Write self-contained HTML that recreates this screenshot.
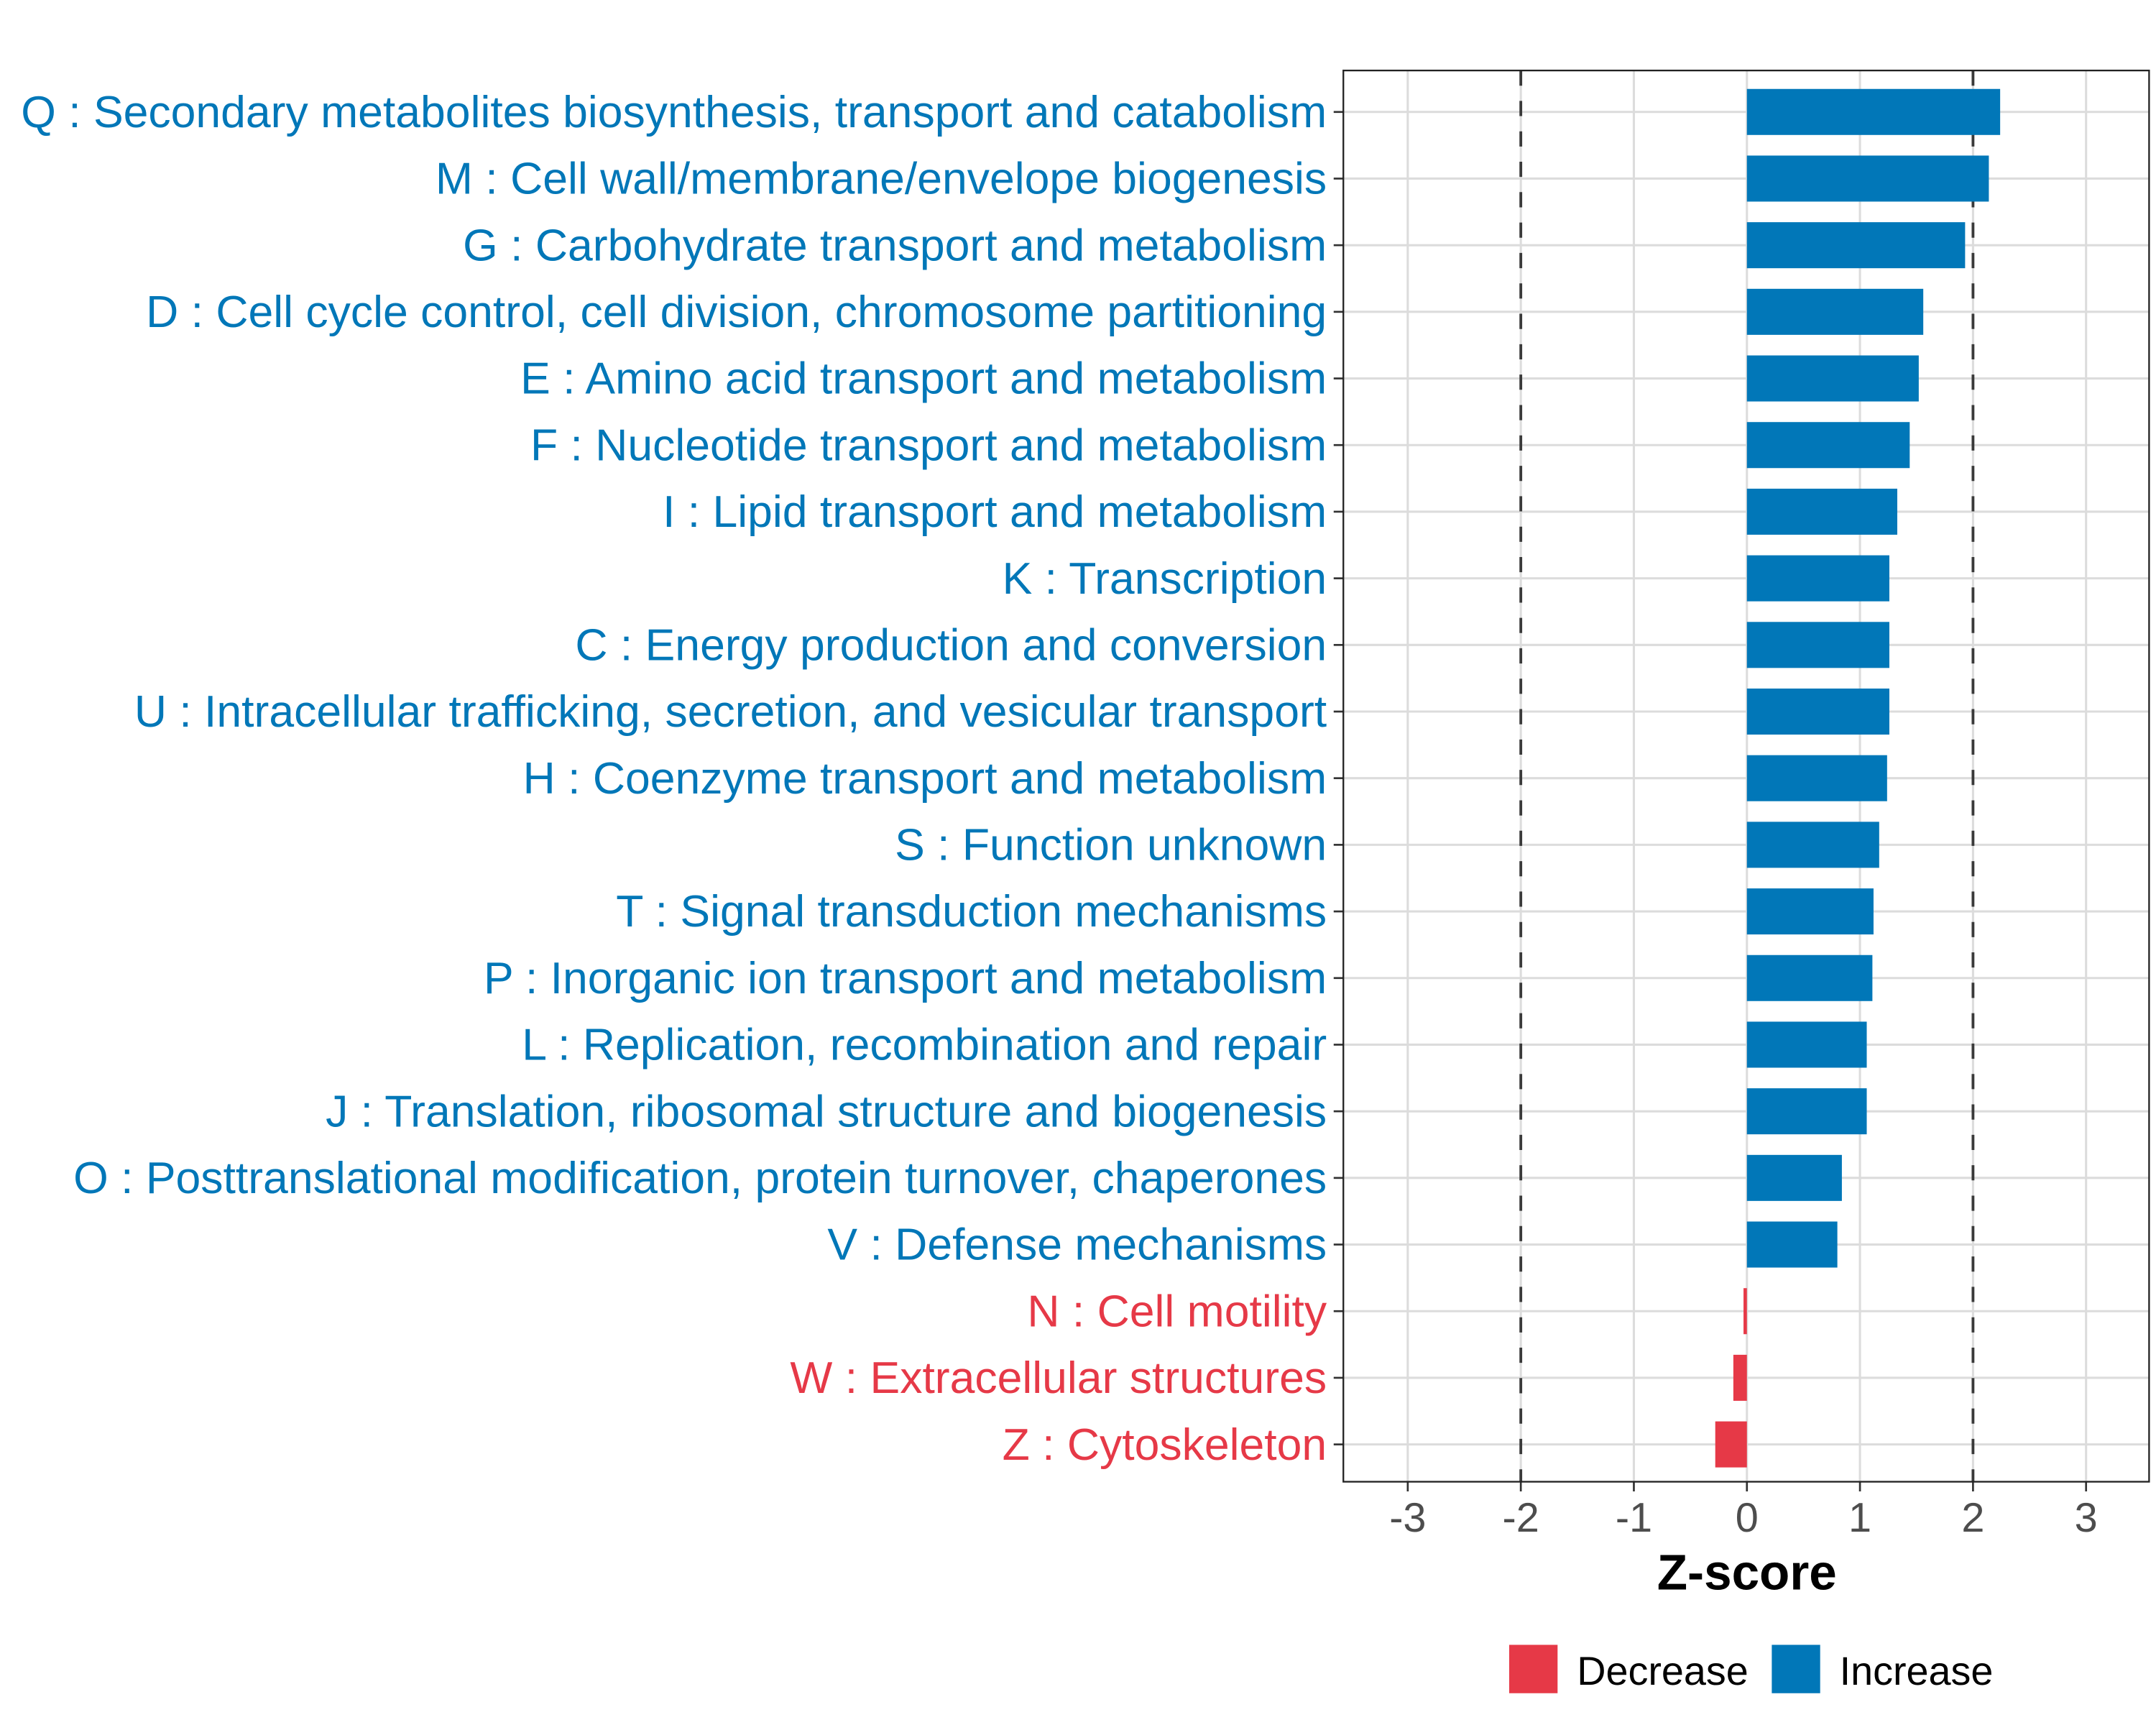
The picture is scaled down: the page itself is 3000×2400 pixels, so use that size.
<!DOCTYPE html>
<html><head><meta charset="utf-8"><style>
html,body{margin:0;padding:0;background:#fff}
svg{display:block}
text{font-family:"Liberation Sans",Arial,sans-serif}
</style></head><body>
<svg id="chart" width="3000" height="2400" viewBox="0 0 1560 1248" xmlns="http://www.w3.org/2000/svg">
<rect x="0" y="0" width="1560" height="1248" fill="#fff"/>
<g id="grid"></g><g id="bars"></g><g id="labels"></g><g id="axis"></g>
<rect x="972" y="51" width="583" height="1021" fill="none" stroke="#222" stroke-width="1.2"/>
<text x="1264" y="1150" font-size="36" font-weight="bold" text-anchor="middle" fill="#000">Z-score</text>
<g>
<rect x="1092" y="1190" width="35" height="35" fill="#e63947"/>
<text x="1141" y="1219" font-size="29" fill="#000">Decrease</text>
<rect x="1282" y="1190" width="35" height="35" fill="#0177b8"/>
<text x="1331" y="1219" font-size="29" fill="#000">Increase</text>
</g>
</svg>
<script>
const categories = ["Q : Secondary metabolites biosynthesis, transport and catabolism","M : Cell wall/membrane/envelope biogenesis","G : Carbohydrate transport and metabolism","D : Cell cycle control, cell division, chromosome partitioning","E : Amino acid transport and metabolism","F : Nucleotide transport and metabolism","I : Lipid transport and metabolism","K : Transcription","C : Energy production and conversion","U : Intracellular trafficking, secretion, and vesicular transport","H : Coenzyme transport and metabolism","S : Function unknown","T : Signal transduction mechanisms","P : Inorganic ion transport and metabolism","L : Replication, recombination and repair","J : Translation, ribosomal structure and biogenesis","O : Posttranslational modification, protein turnover, chaperones","V : Defense mechanisms","N : Cell motility","W : Extracellular structures","Z : Cytoskeleton"];
const zscores = [2.24,2.14,1.93,1.56,1.52,1.44,1.33,1.26,1.26,1.26,1.24,1.17,1.12,1.11,1.06,1.06,0.84,0.80,-0.03,-0.12,-0.28];
const xTicks = [-3,-2,-1,0,1,2,3];
const xTickLabels = ["-3","-2","-1","0","1","2","3"];
const thresholds = [-2,2];

const NS="http://www.w3.org/2000/svg";
const x0=1264, unit=81.8;
const xs=v=>x0+v*unit;
const ys=i=>81+i*48.2;
const bandH=33.3;
function mk(tag,attrs,parent){const e=document.createElementNS(NS,tag);for(const k in attrs)e.setAttribute(k,attrs[k]);parent.appendChild(e);return e;}
const grid=document.getElementById('grid'),bars=document.getElementById('bars'),labels=document.getElementById('labels'),axis=document.getElementById('axis');
xTicks.forEach((t,i)=>{
  const g=mk('line',{x1:xs(t),x2:xs(t),y1:51,y2:1072,stroke:'#dcdcdc','stroke-width':1.6},grid);
  
  
  const tk=mk('line',{x1:xs(t),x2:xs(t),y1:1072,y2:1079,stroke:'#333','stroke-width':1.4},axis);
  
  
  const tl=mk('text',{x:xs(t),y:1108,'font-size':30,'text-anchor':'middle',fill:'#4d4d4d'},axis);
  tl.textContent=xTickLabels[i];
  
  
});
categories.forEach((c,i)=>{
  const y=ys(i);
  const g=mk('line',{x1:972,x2:1555,y1:y,y2:y,stroke:'#dcdcdc','stroke-width':1.6},grid);
  
  
});
thresholds.forEach(t=>{
  const d=mk('line',{x1:xs(t),x2:xs(t),y1:51,y2:1072,stroke:'#3a3a3a','stroke-width':2,'stroke-dasharray':'11 11'},grid);
  
  
});
categories.forEach((c,i)=>{
  const v=zscores[i],y=ys(i);
  const col=v<0?'#e63947':'#0177b8';
  const b=mk('rect',{x:Math.min(xs(0),xs(v)),y:y-bandH/2,width:Math.abs(xs(v)-xs(0)),height:bandH,fill:col},bars);
  
  
  const tk=mk('line',{x1:965,x2:972,y1:y,y2:y,stroke:'#333','stroke-width':1.4},axis);
  
  
  const t=mk('text',{x:960,y:y+11,'font-size':32.5,'text-anchor':'end',fill:col},labels);
  t.textContent=c;
  
  
});
</script>
</body></html>
